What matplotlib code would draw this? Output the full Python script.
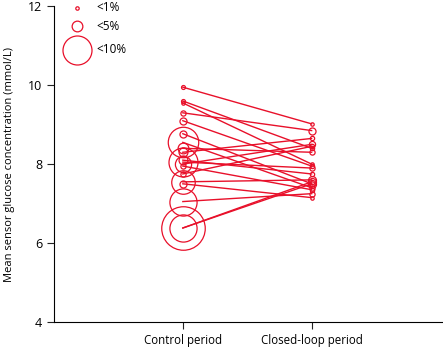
import numpy as np
import matplotlib.pyplot as plt

plt.rcParams['font.family'] = ['Open Sans', 'DejaVu Sans']

# mean sensor glucose (mmol/L) per participant, and % time in hypoglycaemia
control = [9.95, 9.6, 9.55, 9.3, 9.1, 8.77, 8.55, 8.4, 8.3, 8.1, 8.05, 8.0,
           7.95, 7.75, 7.55, 7.5, 7.05, 6.38, 6.38]
closed = [9.02, 8.4, 8.0, 8.85, 7.95, 7.5, 7.4, 8.3, 8.65, 7.75, 7.9, 8.5,
          7.35, 8.45, 7.6, 7.15, 7.25, 7.55, 7.5]
hypo_control = [1.3, 1.3, 1.0, 2.0, 3.0, 3.0, 10.5, 5.0, 4.0, 4.0, 10.0, 6.5,
                2.0, 2.0, 8.5, 3.0, 9.5, 15.0, 9.5]
hypo_closed = [1.0, 1.5, 1.0, 3.0, 1.5, 3.5, 2.0, 2.0, 1.5, 1.5, 2.0, 2.5,
               1.5, 1.5, 3.5, 1.0, 2.0, 3.5, 2.0]

legend_pct = [1, 5, 10]
legend_labels = ['<1%', '<5%', '<10%']
periods = ['Control period', 'Closed-loop period']

red = '#e8102a'
px = 72 / 100  # pixels -> points at dpi 100


def msize(p):
    # marker diameter (points) from % hypoglycaemia, matched to legend circles
    return np.interp(p, [0, 1, 5, 10], [1.5, 3.4, 10.7, 29], right=None) * px * (1 if p <= 10 else p / 10)


fig = plt.figure(figsize=(4.43, 3.51), dpi=100)
ax = fig.add_axes([0.122, 0.083, 0.878, 0.899])

for c, k, hc, hk in zip(control, closed, hypo_control, hypo_closed):
    ax.plot([1, 2], [c, k], color=red, lw=1.0, zorder=2)
    ax.plot(1, c, 'o', ms=msize(hc), mfc='none', mec=red, mew=0.9, zorder=3)
    ax.plot(2, k, 'o', ms=msize(hk), mfc='none', mec=red, mew=0.9, zorder=3)

ax.set_xlim(0, 3.02)
ax.set_ylim(4, 12)
ax.set_yticks([4, 6, 8, 10, 12])
ax.set_xticks([1, 2])
ax.set_xticklabels(periods)
ax.set_ylabel('Mean sensor glucose concentration (mmol/L)', fontsize=8, labelpad=9)
ax.tick_params(labelsize=8.3, length=5, width=0.8, color='#222222')
ax.tick_params(axis='y', labelsize=9)
for s in ['top', 'right']:
    ax.spines[s].set_visible(False)
for s in ['left', 'bottom']:
    ax.spines[s].set_linewidth(0.8)

# size legend
ly = [0.995, 0.937, 0.862]
for p, lab, y in zip(legend_pct, legend_labels, ly):
    ax.plot(0.06, y, 'o', ms=msize(p), mfc='none', mec=red, mew=0.9,
            transform=ax.transAxes, clip_on=False)
    ax.text(0.108, y, lab, transform=ax.transAxes, va='center', fontsize=8.5)

fig.savefig('out.png', dpi=100)
